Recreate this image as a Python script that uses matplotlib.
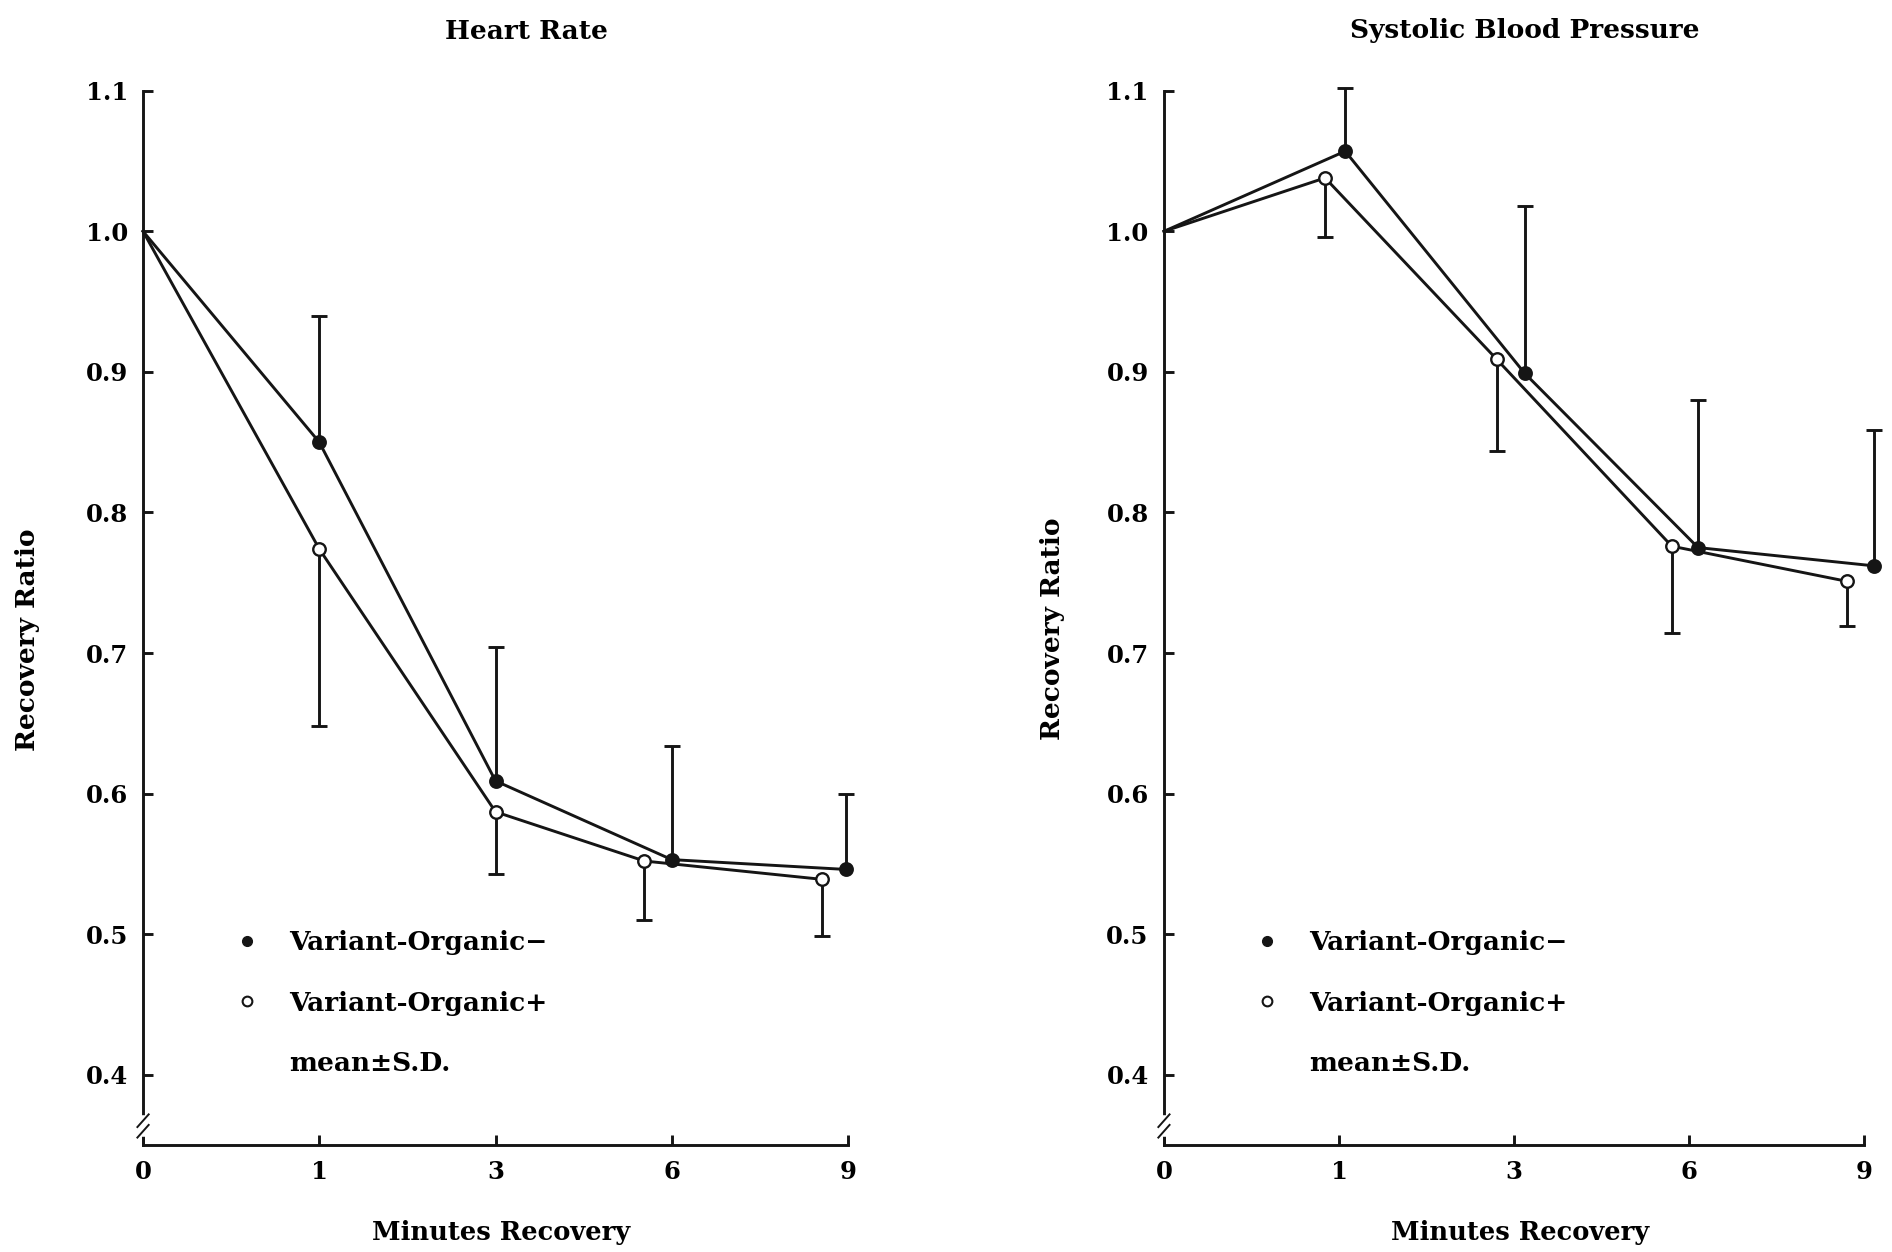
import matplotlib
matplotlib.use("Agg")
import matplotlib.pyplot as plt
from matplotlib.lines import Line2D
import numpy as np

# 回復時間（分）: 等間隔のカテゴリとして描く
minutes = ["0", "1", "3", "6", "9"]
pos = np.arange(len(minutes))

# Heart Rate
hr_minus_mean = [1.0, 0.850, 0.609, 0.553, 0.546]
hr_minus_sd = [0.0, 0.090, 0.095, 0.081, 0.054]
hr_plus_mean = [1.0, 0.774, 0.587, 0.552, 0.539]
hr_plus_sd = [0.0, 0.126, 0.044, 0.042, 0.040]

# Systolic Blood Pressure
sbp_minus_mean = [1.0, 1.057, 0.899, 0.775, 0.762]
sbp_minus_sd = [0.0, 0.045, 0.119, 0.105, 0.097]
sbp_plus_mean = [1.0, 1.038, 0.909, 0.776, 0.751]
sbp_plus_sd = [0.0, 0.042, 0.065, 0.062, 0.032]

# 点の横ずらし（カテゴリ単位）
hr_shift_minus = [0, 0, 0, 0, -0.01]
hr_shift_plus = [0, 0, 0, -0.155, -0.15]
sbp_shift_minus = [0, 0.035, 0.06, 0.05, 0.055]
sbp_shift_plus = [0, -0.08, -0.10, -0.10, -0.10]

plt.rcParams['font.family'] = ['DejaVu Serif']
plt.rcParams['font.weight'] = 'bold'

INK = '#151515'
LW = 2.1
CAP = 12


def draw_series(ax, mean, sd, shift, filled, up):
    x = pos + np.array(shift)
    m = np.array(mean)
    s = np.array(sd)
    ax.plot(x, m, color=INK, lw=LW, zorder=2, clip_on=False)
    tips = m + s if up else m - s
    ax.vlines(x[1:], m[1:], tips[1:], color=INK, lw=LW, zorder=1, clip_on=False)
    ax.plot(x[1:], tips[1:], '_', color=INK, ms=CAP, mew=LW, zorder=1, clip_on=False)
    ax.plot(x[1:], m[1:], 'o', ms=9, mec=INK, mew=1.7,
            mfc=INK if filled else 'white', zorder=3, clip_on=False)


def style_axes(ax, lab_x, ylab_x, ylab_y):
    ax.set_xlim(0, 4)
    ax.set_ylim(0.35, 1.1)
    ax.set_xticks(pos)
    ax.set_xticklabels(minutes)
    ax.set_yticks([0.4, 0.5, 0.6, 0.7, 0.8, 0.9, 1.0, 1.1])
    ax.set_yticklabels(["0.4", "0.5", "0.6", "0.7", "0.8", "0.9", "1.0", "1.1"])
    ax.spines['top'].set_visible(False)
    ax.spines['right'].set_visible(False)
    for sp in ('left', 'bottom'):
        ax.spines[sp].set_linewidth(LW)
        ax.spines[sp].set_color(INK)
    ax.tick_params(axis='both', direction='in', length=7, width=LW, color=INK,
                   labelsize=17.5, pad=11)
    ax.set_xlabel("Minutes Recovery", fontsize=18.5, fontweight='bold')
    ax.set_ylabel("Recovery Ratio", fontsize=19, fontweight='bold')
    ax.xaxis.set_label_coords(lab_x, -0.071)
    ax.yaxis.set_label_coords(ylab_x, ylab_y)

    # 軸の省略記号
    yb = 0.018
    ax.plot([0, 0], [yb - 0.008, yb + 0.008], color='white', lw=4,
            transform=ax.transAxes, clip_on=False, zorder=5)
    for dy in (-0.005, 0.005):
        ax.plot([-0.008, 0.008], [yb + dy - 0.006, yb + dy + 0.006], color=INK,
                lw=1.4, transform=ax.transAxes, clip_on=False, zorder=6)

    handles = [
        Line2D([], [], ls='none', marker='o', ms=7, mfc=INK, mec=INK),
        Line2D([], [], ls='none', marker='o', ms=7, mfc='white', mec=INK, mew=1.5),
        Line2D([], [], ls='none'),
    ]
    labels = ["Variant-Organic\u2212", "Variant-Organic+", "mean\u00b1S.D."]
    ax.legend(handles, labels, loc='lower left', bbox_to_anchor=(0.1326, 0.0655),
              frameon=False, fontsize=19, handlelength=0.8, handletextpad=1.19,
              labelspacing=1.34, borderpad=0, borderaxespad=0)


fig = plt.figure(figsize=(18.92, 12.52), dpi=100)
ax1 = fig.add_axes([0.0756, 0.0855, 0.3726, 0.842])
ax2 = fig.add_axes([0.6152, 0.0855, 0.3702, 0.842])

draw_series(ax1, hr_minus_mean, hr_minus_sd, hr_shift_minus, True, True)
draw_series(ax1, hr_plus_mean, hr_plus_sd, hr_shift_plus, False, False)
style_axes(ax1, 0.508, -0.146, 0.479)

draw_series(ax2, sbp_minus_mean, sbp_minus_sd, sbp_shift_minus, True, True)
draw_series(ax2, sbp_plus_mean, sbp_plus_sd, sbp_shift_plus, False, False)
style_axes(ax2, 0.509, -0.141, 0.49)

fig.text(0.2785, 0.975, "Heart Rate", ha='center', va='center', fontsize=19, fontweight='bold')
fig.text(0.806, 0.976, "Systolic Blood Pressure", ha='center', va='center', fontsize=19,
         fontweight='bold')

fig.savefig("out.png", dpi=100, facecolor='white')
